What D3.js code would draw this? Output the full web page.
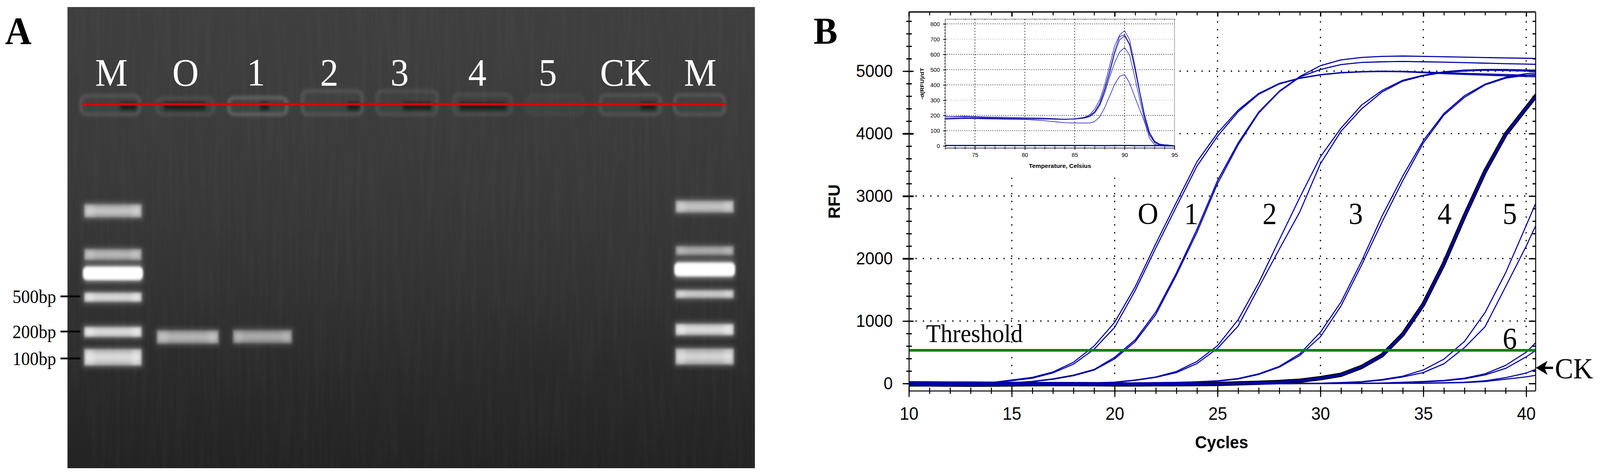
<!DOCTYPE html>
<html>
<head>
<meta charset="utf-8">
<script src="https://cdn.jsdelivr.net/npm/d3@7"></script>
<style>
  html, body { margin: 0; height: 100%; background: #fff; overflow: hidden; }
  svg { display: block; width: 100vw; height: 100vh; }
  .serif { font-family: "Liberation Serif", serif; }
  .sans { font-family: "Liberation Sans", Arial, sans-serif; }
</style>
</head>
<body>
<svg viewBox="0 0 4364 1219" preserveAspectRatio="none"></svg>
<script>
// Panel A: lanes (lane unit = 2px)
const laneLabels = ["M", "O", "1", "2", "3", "4", "5", "CK", "M"];
const lanePosition = [0, 101, 197, 297, 393, 499, 595, 701, 803];
const wellCentre = [-1.5, 100.5, 199.5, 301, 403, 506, 605, 707.5, 802];
const wellWidth = [80, 77, 79, 82, 82, 79, 77, 82, 68];
const wellTop = [-2.2, -1.6, -1.7, -3.4, -3.4, -2.6, -2.4, -2.4, -2.4];
const wellGlow = [0.24, 0.16, 0.38, 0.24, 0.18, 0.14, 0.07, 0.22, 0.26];
const wellDarkStart = [12, 72, 203, 322, 398, 475, 0, 722, 0];
const wellDarkEnd = [34, 128, 215, 338, 436, 538, 0, 742, 0];

const markerMigration = [27.3, 38.5, 43.3, 49.4, 58.3, 64.8];
const markerThickness = [3.3, 2.8, 3.9, 2.3, 2.5, 4.1];
const markerBrightness = [0.7, 0.62, 1, 0.92, 0.95, 0.92];
const rightMarkerMigration = [26.2, 37.5, 42.3, 48.6, 57.7, 64.6];
const rightMarkerThickness = [3.0, 2.3, 4.0, 2.0, 2.8, 4.0];
const rightMarkerBrightness = [0.7, 0.55, 1, 0.8, 0.95, 0.85];
const sampleLaneCentre = [104, 206];
const sampleLaneWidth = [84, 80];
const sampleMigration = [59.6, 59.5];
const sampleThickness = [3.3, 3.3];
const sampleBrightness = [0.62, 0.55];
const sizeLabels = ["500bp", "200bp", "100bp"];
const sizeMigration = [49.2, 58.2, 65.1];

// Panel B: amplification curves, one value per cycle, 10 to 41
const cycles = [10,11,12,13,14,15,16,17,18,19,20,21,22,23,24,25,26,27,28,29,30,31,32,33,34,35,36,37,38,39,40,41];
const curveO1 = [22,18,12,8,15,57,99,185,340,600,980,1550,2240,2900,3550,4010,4377,4644,4804,4890,4945,4977,4992,5000,4998,4985,4975,4965,4955,4945,4935,4927];
const curveO2 = [25,20,14,10,12,45,85,170,310,550,900,1490,2170,2830,3480,3960,4350,4630,4795,4885,4940,4972,4988,4995,4990,4975,4960,4948,4936,4925,4915,4905];
const curve1a = [18,15,10,8,5,12,35,75,135,225,420,700,1145,1770,2470,3250,3852,4346,4680,4915,5088,5180,5220,5236,5242,5236,5230,5224,5218,5212,5206,5200];
const curve1b = [15,12,8,5,3,5,30,68,125,215,395,670,1105,1735,2420,3200,3820,4330,4670,4905,5027,5105,5140,5150,5155,5150,5144,5136,5128,5120,5113,5105];
const curve2a = [15,10,5,0,-5,-8,-5,0,5,10,22,57,105,193,353,607,1020,1612,2300,2980,3630,4088,4458,4693,4854,4935,4990,5018,5027,5027,5020,5012];
const curve2b = [12,8,3,-3,-8,-10,-8,-4,2,8,18,50,98,175,320,563,920,1538,2150,2750,3519,4038,4396,4668,4840,4925,4980,5000,5015,5010,5000,4995];
const curve3a = [8,5,0,-5,-10,-12,-10,-8,-5,0,5,8,12,18,28,44,80,155,274,476,822,1304,1958,2686,3321,3889,4322,4607,4792,4903,4960,4985];
const curve3b = [5,2,-2,-8,-12,-15,-12,-10,-8,-3,2,5,10,15,24,38,72,145,262,450,748,1242,1896,2590,3247,3851,4297,4581,4780,4888,4935,4958];
const curve4 = [-15,-15,-18,-20,-18,-15,-12,-10,-10,-12,-15,-15,-12,-12,-10,-7,2,12,25,45,85,140,265,452,785,1267,1921,2679,3396,3989,4409,4822];
const curve5a = [5,3,0,-3,-5,-5,-3,0,2,3,3,3,2,2,1,0,0,0,2,3,5,15,30,64,118,217,390,674,1136,1773,2530,3300];
const curve5b = [2,0,-3,-5,-8,-8,-5,-3,0,0,0,0,0,0,0,-2,-2,0,0,2,3,10,24,55,105,175,316,575,909,1550,2200,2911];
const curve6a = [-25,-28,-30,-32,-30,-28,-28,-25,-25,-25,-25,-22,-20,-18,-15,-12,-10,-8,-5,-3,0,3,5,8,20,32,50,86,155,291,501,832];
const curve6b = [-22,-25,-28,-30,-30,-25,-25,-22,-20,-22,-22,-20,-18,-15,-12,-10,-8,-5,-3,0,2,3,4,6,15,25,42,75,138,242,427,647];
const curveCKa = [30,28,25,25,22,20,18,16,14,12,10,8,8,6,5,4,3,2,2,2,2,3,3,3,4,6,12,20,44,94,168,295];
const curveCKb = [-30,-32,-32,-30,-28,-24,-22,-20,-20,-22,-25,-25,-22,-22,-18,-12,-8,-4,-2,0,0,1,1,2,3,4,8,14,32,69,106,162];
const thinCurves = [curveO1, curveO2, curve1a, curve1b, curve2a, curve2b, curve3a, curve3b, curve5a, curve5b, curve6a, curve6b, curveCKa, curveCKb];
const threshold = 532;
const curveNotes = [["O", 21.62, 2560], ["1", 23.72, 2560], ["2", 27.53, 2560], ["3", 31.72, 2560], ["4", 36.03, 2560], ["5", 39.2, 2560], ["6", 39.2, 560]];

const rfuMajor = [0, 1000, 2000, 3000, 4000, 5000];
const rfuMinor = d3.range(0, 5801, 200);
const cycleMajor = [10, 15, 20, 25, 30, 35, 40];
const cycleMinor = d3.range(10, 41);

// Inset: melting curves
const tempGrid = [72,74,76,78,80,82,84,85,86,86.5,87,87.5,88,88.5,89,89.5,90,90.5,91,91.5,92,92.5,93,93.5,94,95];
const meltA = [190,195,190,188,185,182,175,178,188,205,240,300,400,525,655,728,755,697,540,365,205,90,30,12,8,2];
const meltB = [190,192,186,182,180,178,176,178,186,198,225,280,375,490,620,718,728,670,520,360,205,90,32,12,8,2];
const meltC = [178,182,180,178,178,176,174,176,184,196,222,272,362,475,605,695,722,660,510,350,190,78,25,8,5,1];
const meltD = [180,185,182,180,178,176,174,176,182,192,215,262,345,450,545,615,645,595,455,310,170,70,22,6,4,1];
const meltE = [175,180,177,175,174,165,152,150,150,150,160,190,250,326,403,457,467,413,326,241,156,50,10,3,3,1];
const meltZero = [3,3,3,3,3,3,3,3,3,3,2,2,2,2,3,3,3,3,2,2,2,2,2,2,1,0];
const meltCurves = [meltA, meltB, meltC, meltD, meltE, meltZero];
const meltMajor = [0, 100, 200, 300, 400, 500, 600, 700, 800];
const tempMajor = [75, 80, 85, 90, 95];

const svg = d3.select("svg");
const defs = svg.append("defs");

[2, 3, 4, 7].forEach(s => {
  defs.append("filter").attr("id", `blur${s}`)
    .attr("x", "-20%").attr("y", "-100%").attr("width", "140%").attr("height", "300%")
    .append("feGaussianBlur").attr("stdDeviation", s);
});

const gelFill = defs.append("linearGradient").attr("id", "gelFill")
  .attr("x1", 0).attr("y1", 0).attr("x2", 0).attr("y2", 1);
[[0, "#3f3f3f"], [0.35, "#3a3a3a"], [0.6, "#333333"], [0.8, "#2a2a2a"], [1, "#232323"]].forEach(d => {
  gelFill.append("stop").attr("offset", d[0]).attr("stop-color", d[1]);
});

const bandFill = defs.append("linearGradient").attr("id", "bandFill");
[[0, 0.85], [0.1, 1], [0.22, 0.76], [0.78, 0.76], [0.9, 1], [1, 0.85]].forEach(d => {
  bandFill.append("stop").attr("offset", d[0]).attr("stop-color", "#fff").attr("stop-opacity", d[1]);
});

// vertical streaks of the gel photo
const streaks = defs.append("filter").attr("id", "streaks").attr("x", 0).attr("y", 0).attr("width", 1).attr("height", 1);
streaks.append("feTurbulence").attr("type", "fractalNoise").attr("baseFrequency", "0.07 0.005").attr("numOctaves", 2).attr("seed", 4);
streaks.append("feColorMatrix").attr("values", "0 0 0 0 1  0 0 0 0 1  0 0 0 0 1  0.55 0 0 0 -0.2");

// ---------- Panel A ----------
const gelX = d3.scaleLinear().domain([0, 803]).range([304, 1910]);
const gelY = d3.scaleLinear().domain([0, 93.2]).range([267, 1199]);
const panelA = svg.append("g");

panelA.append("rect").attr("x", 184).attr("y", gelY(-24.9)).attr("width", 1875).attr("height", gelY(93.2) - gelY(-24.9)).attr("fill", "url(#gelFill)");
panelA.append("rect").attr("x", 184).attr("y", gelY(-24.9)).attr("width", 1875).attr("height", gelY(93.2) - gelY(-24.9))
  .attr("filter", "url(#streaks)").attr("opacity", 0.09);

// wells
const wells = panelA.append("g");
laneLabels.forEach((d, i) => {
  const x0 = gelX(wellCentre[i] - wellWidth[i] / 2), x1 = gelX(wellCentre[i] + wellWidth[i] / 2);
  wells.append("rect").attr("x", x0).attr("y", gelY(wellTop[i])).attr("width", x1 - x0).attr("height", gelY(2.6) - gelY(wellTop[i]))
    .attr("rx", 14).attr("fill", "#777").attr("fill-opacity", 0.06)
    .attr("stroke", "#a8a8a8").attr("stroke-opacity", wellGlow[i]).attr("stroke-width", 8).attr("filter", "url(#blur4)");
  if (wellDarkEnd[i] > 0) {
    wells.append("rect").attr("x", gelX(wellDarkStart[i])).attr("y", gelY(-0.5))
      .attr("width", gelX(wellDarkEnd[i]) - gelX(wellDarkStart[i])).attr("height", gelY(1.5) - gelY(-0.5))
      .attr("fill", "#050505").attr("opacity", 0.5).attr("filter", "url(#blur4)");
  }
});

// DNA bands
function drawBand(centre, width, migration, thickness, brightness) {
  const x = gelX(centre - width / 2), w = gelX(centre + width / 2) - x;
  const y = gelY(migration - thickness / 2), h = gelY(migration + thickness / 2) - y;
  const g = panelA.append("g");
  g.append("rect").attr("x", x - 3).attr("y", y - 5).attr("width", w + 6).attr("height", h + 10)
    .attr("fill", "#fff").attr("opacity", brightness * 0.32).attr("filter", "url(#blur7)");
  if (brightness >= 1) {
    g.append("rect").attr("x", x - 4).attr("y", y + 2).attr("width", w + 8).attr("height", h - 4).attr("rx", 12)
      .attr("fill", "#fff").attr("filter", "url(#blur3)");
  } else {
    g.append("rect").attr("x", x).attr("y", y).attr("width", w).attr("height", h)
      .attr("fill", "url(#bandFill)").attr("opacity", brightness * 0.75).attr("filter", "url(#blur3)");
    g.append("rect").attr("x", x + 4).attr("y", y + h * 0.25).attr("width", w - 8).attr("height", h * 0.5)
      .attr("fill", "#fff").attr("opacity", brightness * 0.5).attr("filter", "url(#blur4)");
  }
}
markerMigration.forEach((m, i) => drawBand(2, 78, m, markerThickness[i], markerBrightness[i]));
rightMarkerMigration.forEach((m, i) => drawBand(809, 79, m, rightMarkerThickness[i], rightMarkerBrightness[i]));
sampleMigration.forEach((m, i) => drawBand(sampleLaneCentre[i], sampleLaneWidth[i], m, sampleThickness[i], sampleBrightness[i]));

// red well line
panelA.append("line").attr("x1", gelX(-40.5)).attr("x2", gelX(838)).attr("y1", gelY(0)).attr("y2", gelY(0))
  .attr("stroke", "#d8000f").attr("stroke-width", 6.5);

// lane labels
panelA.selectAll("text.lane").data(laneLabels).join("text")
  .attr("class", "lane serif")
  .attr("x", (d, i) => gelX(lanePosition[i])).attr("y", 219.5)
  .attr("text-anchor", "middle").attr("font-size", 100).attr("fill", "#fff")
  .text(d => d);

panelA.append("text").attr("class", "serif").attr("x", 50).attr("y", 113).attr("text-anchor", "middle")
  .attr("font-size", 100).attr("font-weight", "bold").text("A");

sizeLabels.forEach((d, i) => {
  const y = gelY(sizeMigration[i]);
  panelA.append("text").attr("class", "serif").attr("x", 153).attr("y", y + 17)
    .attr("text-anchor", "end").attr("font-size", 49).attr("textLength", 119).attr("lengthAdjust", "spacingAndGlyphs").text(d);
  panelA.append("line").attr("x1", 165).attr("x2", 219).attr("y1", y).attr("y2", y).attr("stroke", "#000").attr("stroke-width", 4.5);
});

// ---------- Panel B ----------
const x = d3.scaleLinear().domain([10, 40.45]).range([2479, 4188]);
const y = d3.scaleLinear().domain([-116, 5949]).range([1000.7, 30.4]);
const panelB = svg.append("g");

panelB.append("text").attr("class", "serif").attr("x", 2219).attr("y", 112).attr("font-size", 98).attr("font-weight", "bold").text("B");

defs.append("clipPath").attr("id", "plotClip").append("rect")
  .attr("x", x(10)).attr("y", y(5949)).attr("width", x(40.45) - x(10)).attr("height", y(-116) - y(5949));

// dotted grid
const grid = panelB.append("g").attr("stroke", "#000").attr("stroke-width", 3.2).attr("stroke-dasharray", "3.5 16.5");
grid.selectAll("line.h").data(rfuMajor.slice(1)).join("line").attr("class", "h")
  .attr("x1", x(10) + 18).attr("x2", x(40.45)).attr("y1", d => y(d)).attr("y2", d => y(d));
grid.selectAll("line.v").data(cycleMajor.slice(1)).join("line").attr("class", "v")
  .attr("x1", d => x(d)).attr("x2", d => x(d)).attr("y1", y(5800)).attr("y2", y(120));

// white box behind the inset hides the grid
panelB.append("rect").attr("x", 2490).attr("y", 42).attr("width", 725).attr("height", 413).attr("fill", "#fff");

// amplification curves
const line = d3.line().x((d, i) => x(cycles[i])).y(d => y(d));
const curves = panelB.append("g").attr("clip-path", "url(#plotClip)").attr("fill", "none").attr("stroke-linejoin", "round");
curves.append("path").attr("d", line(curve4)).attr("stroke", "#000").attr("stroke-width", 11);
curves.append("path").attr("d", line(curve4)).attr("stroke", "#0000a8").attr("stroke-width", 6);
curves.selectAll("path.thin").data(thinCurves).join("path").attr("class", "thin")
  .attr("d", line).attr("stroke", "#0000a8").attr("stroke-width", 2.8);

panelB.append("line").attr("x1", x(10)).attr("x2", x(40.45)).attr("y1", y(threshold)).attr("y2", y(threshold))
  .attr("stroke", "#008000").attr("stroke-width", 6.8);

// axes
const axisStyle = g => {
  g.selectAll("path.domain").attr("stroke", "#000").attr("stroke-width", 2.6);
  g.selectAll("line").attr("stroke", "#000").attr("stroke-width", 2.8);
  g.selectAll("text").attr("class", "sans").attr("fill", "#000");
};

const xBottomMinor = panelB.append("g").attr("transform", `translate(0,${y(-116)})`)
  .call(d3.axisBottom(x).tickValues(cycleMinor).tickSize(8).tickSizeOuter(0).tickFormat(""));
xBottomMinor.call(axisStyle);
xBottomMinor.selectAll("line").attr("y1", -8);

const xBottom = panelB.append("g").attr("transform", `translate(0,${y(-116)})`)
  .call(d3.axisBottom(x).tickValues(cycleMajor).tickSize(16).tickSizeOuter(0).tickPadding(26).tickFormat(d3.format("d")));
xBottom.call(axisStyle);
xBottom.select("path.domain").remove();
xBottom.selectAll("line").attr("y1", -12);
xBottom.attr("font-size", 46);

const xTop = panelB.append("g").attr("transform", `translate(0,${y(5949)})`)
  .call(d3.axisTop(x).tickValues(cycleMinor).tickSize(-10).tickSizeOuter(0).tickFormat(""));
xTop.call(axisStyle);
xTop.selectAll("line").attr("y2", d => cycleMajor.includes(d) ? 12 : 9).attr("stroke-width", d => cycleMajor.includes(d) ? 3.6 : 2.6);

const yLeftMinor = panelB.append("g").attr("transform", `translate(${x(10)},0)`)
  .call(d3.axisLeft(y).tickValues(rfuMinor).tickSize(7).tickSizeOuter(0).tickFormat(""));
yLeftMinor.call(axisStyle);
yLeftMinor.selectAll("line").attr("x2", 8).attr("x1", -7).attr("stroke-width", 3.2);

const yLeft = panelB.append("g").attr("transform", `translate(${x(10)},0)`)
  .call(d3.axisLeft(y).tickValues(rfuMajor).tickSize(17).tickSizeOuter(0).tickPadding(27).tickFormat(d3.format("d")));
yLeft.call(axisStyle);
yLeft.select("path.domain").remove();
yLeft.selectAll("line").attr("x1", 13).attr("stroke-width", d => [2000, 3000, 4000].includes(d) ? 4.4 : 3);
yLeft.attr("font-size", 45);

const yRight = panelB.append("g").attr("transform", `translate(${x(40.45)},0)`)
  .call(d3.axisRight(y).tickValues(rfuMinor).tickSize(-8).tickSizeOuter(0).tickFormat(""));
yRight.call(axisStyle);
yRight.selectAll("line").attr("x2", d => rfuMajor.includes(d) ? -18 : -8).attr("stroke-width", 3.2);

panelB.append("line").attr("x1", x(10)).attr("x2", x(40.45)).attr("y1", y(5949)).attr("y2", y(5949)).attr("stroke", "#000").attr("stroke-width", 3);

panelB.append("text").attr("class", "sans").attr("font-weight", "bold").attr("font-size", 46)
  .attr("transform", "translate(2291,516) rotate(-90)").attr("text-anchor", "middle")
  .attr("textLength", 88).attr("lengthAdjust", "spacingAndGlyphs").text("RFU");
panelB.append("text").attr("class", "sans").attr("font-weight", "bold").attr("font-size", 45)
  .attr("x", 3332).attr("y", 1148).attr("text-anchor", "middle").text("Cycles");

// curve labels
panelB.selectAll("text.note").data(curveNotes).join("text").attr("class", "note serif")
  .attr("x", d => x(d[1])).attr("y", d => y(d[2])).attr("text-anchor", "middle").attr("font-size", 78)
  .text(d => d[0]);
panelB.append("text").attr("class", "serif").attr("x", 2526).attr("y", 876).attr("font-size", 65).text("Threshold");
panelB.append("text").attr("class", "serif").attr("x", 4241).attr("y", 969).attr("font-size", 75).text("CK");
const arrow = d3.path();
arrow.moveTo(x(40.45) + 1, 942);
arrow.lineTo(4221, 924);
arrow.lineTo(4214, 939);
arrow.lineTo(4236, 939);
arrow.lineTo(4236, 945);
arrow.lineTo(4214, 945);
arrow.lineTo(4221, 960);
arrow.closePath();
panelB.append("path").attr("d", arrow.toString()).attr("fill", "#000");

// ---------- Inset ----------
const ix = d3.scaleLinear().domain([72, 95]).range([2577.4, 3203.4]);
const iy = d3.scaleLinear().domain([-13, 831]).range([378.8, 49]);
const inset = panelB.append("g");

inset.append("path").attr("d", `M${ix(72)},${iy(831)}H${ix(95)}V${iy(-13)}`).attr("fill", "none").attr("stroke", "#9a9a9a").attr("stroke-width", 1.8);

const insetGrid = inset.append("g").attr("stroke-width", 1.9).attr("stroke-dasharray", "1.9 4");
insetGrid.selectAll("line.h").data(meltMajor.slice(1)).join("line").attr("class", "h")
  .attr("x1", ix(72)).attr("x2", ix(95)).attr("y1", d => iy(d)).attr("y2", d => iy(d))
  .attr("stroke", d => (d === 700 || d === 300) ? "#b5b5b5" : "#111");
insetGrid.selectAll("line.v").data(tempMajor.slice(0, 4)).join("line").attr("class", "v")
  .attr("x1", d => ix(d)).attr("x2", d => ix(d)).attr("y1", iy(831)).attr("y2", iy(0))
  .attr("stroke", "#111").attr("stroke-dasharray", "2.5 5");

const meltLine = d3.line().x((d, i) => ix(tempGrid[i])).y(d => iy(d));
inset.append("g").attr("fill", "none").attr("stroke", "#1414a8").attr("stroke-linejoin", "round")
  .selectAll("path").data(meltCurves).join("path")
  .attr("d", meltLine).attr("stroke-width", (d, i) => i === 5 ? 3.2 : 1.5);

const insetX = inset.append("g").attr("transform", `translate(0,${iy(-13)})`)
  .call(d3.axisBottom(ix).tickValues(d3.range(72, 96)).tickSize(4).tickSizeOuter(0).tickFormat(""));
insetX.call(axisStyle);
insetX.select("path.domain").attr("stroke-width", 1.6);
insetX.selectAll("line").attr("y1", -4).attr("stroke-width", 1.4);

const insetXLabels = inset.append("g").attr("transform", `translate(0,${iy(-13)})`)
  .call(d3.axisBottom(ix).tickValues(tempMajor).tickSize(5).tickSizeOuter(0).tickPadding(7).tickFormat(d3.format("d")));
insetXLabels.call(axisStyle);
insetXLabels.select("path.domain").remove();
insetXLabels.selectAll("line").attr("y1", -6).attr("stroke-width", 1.8);
insetXLabels.attr("font-size", 15.5);

const insetTop = inset.append("g").attr("transform", `translate(0,${iy(831)})`)
  .call(d3.axisTop(ix).tickValues(d3.range(72, 96)).tickSize(-2.5).tickSizeOuter(0).tickFormat(""));
insetTop.select("path.domain").remove();
insetTop.selectAll("line").attr("stroke", "#222").attr("stroke-width", 1.4);

const insetYMinor = inset.append("g").attr("transform", `translate(${ix(72)},0)`)
  .call(d3.axisLeft(iy).tickValues(d3.range(0, 801, 20)).tickSize(2).tickSizeOuter(0).tickFormat(""));
insetYMinor.call(axisStyle);
insetYMinor.select("path.domain").attr("stroke", "#555").attr("stroke-width", 1.6);
insetYMinor.selectAll("line").attr("x2", 2).attr("x1", -2).attr("stroke-width", 1.3);

const insetY = inset.append("g").attr("transform", `translate(${ix(72)},0)`)
  .call(d3.axisLeft(iy).tickValues(meltMajor).tickSize(5).tickSizeOuter(0).tickPadding(9).tickFormat(d3.format("d")));
insetY.call(axisStyle);
insetY.select("path.domain").remove();
insetY.selectAll("line").attr("x1", 4).attr("x2", -5).attr("stroke-width", 1.9);
insetY.attr("font-size", 15.5);

inset.append("text").attr("class", "sans").attr("font-weight", "bold").attr("font-size", 15.5)
  .attr("x", 2891).attr("y", 430).attr("text-anchor", "middle").attr("textLength", 170).attr("lengthAdjust", "spacingAndGlyphs")
  .text("Temperature, Celsius");
inset.append("text").attr("class", "sans").attr("font-weight", "bold").attr("font-size", 14)
  .attr("transform", "translate(2520,214.5) rotate(-90)").attr("text-anchor", "middle").attr("textLength", 81).attr("lengthAdjust", "spacingAndGlyphs")
  .text("-d(RFU)/dT");
</script>
</body>
</html>
